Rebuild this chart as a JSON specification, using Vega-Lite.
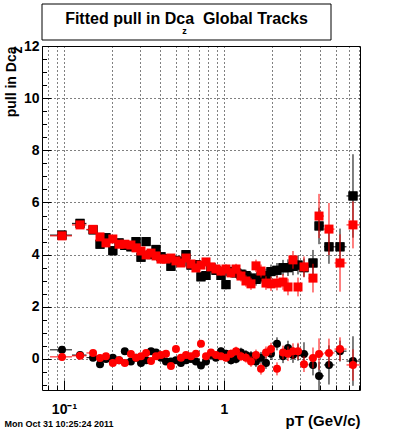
{
 "$schema": "https://vega.github.io/schema/vega-lite/v6.json",
 "padding": {"left": 3, "top": 3, "right": 0, "bottom": 0},
 "background": "white",
 "config": {"view": {"stroke": "black", "strokeWidth": 1}, "font": "Liberation Sans"},
 "spacing": -3,
 "datasets": {
  "bs": [
   {"pt":0.0972,"lo":0.0818,"hi":0.1122,"v":4.75,"e":0.1},
   {"pt":0.126,"lo":0.1122,"hi":0.1382,"v":5.2,"e":0.1},
   {"pt":0.152,"lo":0.1382,"hi":0.1597,"v":4.95,"e":0.1},
   {"pt":0.168,"lo":0.1597,"hi":0.1753,"v":4.4,"e":0.1},
   {"pt":0.183,"lo":0.1753,"hi":0.1925,"v":4.65,"e":0.1},
   {"pt":0.202,"lo":0.1925,"hi":0.2113,"v":4.15,"e":0.1},
   {"pt":0.221,"lo":0.2113,"hi":0.2304,"v":4.45,"e":0.1},
   {"pt":0.240,"lo":0.2304,"hi":0.2512,"v":4.35,"e":0.1},
   {"pt":0.262,"lo":0.2512,"hi":0.2719,"v":4.3,"e":0.1},
   {"pt":0.282,"lo":0.2719,"hi":0.2922,"v":4.5,"e":0.1},
   {"pt":0.303,"lo":0.2922,"hi":0.3140,"v":3.9,"e":0.1},
   {"pt":0.326,"lo":0.3140,"hi":0.3375,"v":4.5,"e":0.1},
   {"pt":0.350,"lo":0.3375,"hi":0.3626,"v":4.0,"e":0.12},
   {"pt":0.376,"lo":0.3626,"hi":0.3897,"v":4.2,"e":0.12},
   {"pt":0.404,"lo":0.3897,"hi":0.4187,"v":3.92,"e":0.12},
   {"pt":0.434,"lo":0.4187,"hi":0.4500,"v":3.85,"e":0.12},
   {"pt":0.466,"lo":0.4500,"hi":0.4836,"v":3.55,"e":0.12},
   {"pt":0.501,"lo":0.4836,"hi":0.5196,"v":3.78,"e":0.12},
   {"pt":0.538,"lo":0.5196,"hi":0.5584,"v":3.72,"e":0.13},
   {"pt":0.579,"lo":0.5584,"hi":0.6000,"v":4.0,"e":0.13},
   {"pt":0.622,"lo":0.6000,"hi":0.6448,"v":3.6,"e":0.13},
   {"pt":0.668,"lo":0.6448,"hi":0.6929,"v":3.62,"e":0.14},
   {"pt":0.718,"lo":0.6929,"hi":0.7446,"v":3.15,"e":0.14},
   {"pt":0.772,"lo":0.7446,"hi":0.8001,"v":3.2,"e":0.15},
   {"pt":0.829,"lo":0.8001,"hi":0.8598,"v":3.5,"e":0.15},
   {"pt":0.891,"lo":0.8598,"hi":0.9239,"v":3.4,"e":0.16},
   {"pt":0.958,"lo":0.9239,"hi":0.9928,"v":3.2,"e":0.17},
   {"pt":1.029,"lo":0.9928,"hi":1.0669,"v":2.85,"e":0.18},
   {"pt":1.106,"lo":1.0669,"hi":1.1464,"v":3.35,"e":0.19},
   {"pt":1.189,"lo":1.1464,"hi":1.2318,"v":3.3,"e":0.2},
   {"pt":1.277,"lo":1.2318,"hi":1.3237,"v":3.25,"e":0.21},
   {"pt":1.372,"lo":1.3237,"hi":1.4223,"v":3.2,"e":0.22},
   {"pt":1.475,"lo":1.4223,"hi":1.5284,"v":3.1,"e":0.23},
   {"pt":1.585,"lo":1.5284,"hi":1.6423,"v":3.05,"e":0.24},
   {"pt":1.703,"lo":1.6423,"hi":1.7647,"v":3.15,"e":0.25},
   {"pt":1.830,"lo":1.7647,"hi":1.8963,"v":3.2,"e":0.26},
   {"pt":1.967,"lo":1.8963,"hi":2.0535,"v":3.35,"e":0.27},
   {"pt":2.144,"lo":2.0535,"hi":2.2387,"v":3.4,"e":0.28},
   {"pt":2.338,"lo":2.2387,"hi":2.4228,"v":3.5,"e":0.3},
   {"pt":2.512,"lo":2.4228,"hi":2.6034,"v":3.5,"e":0.32},
   {"pt":2.699,"lo":2.6034,"hi":2.7975,"v":3.55,"e":0.34},
   {"pt":2.901,"lo":2.7975,"hi":3.0284,"v":3.6,"e":0.36},
   {"pt":3.162,"lo":3.0284,"hi":3.3743,"v":3.5,"e":0.35},
   {"pt":3.599,"lo":3.3743,"hi":3.7584,"v":3.68,"e":0.5},
   {"pt":3.926,"lo":3.7584,"hi":4.2170,"v":5.1,"e":0.7},
   {"pt":4.53,"lo":4.2170,"hi":4.9058,"v":4.3,"e":0.65},
   {"pt":5.31,"lo":4.9058,"hi":5.8308,"v":4.3,"e":0.7},
   {"pt":6.40,"lo":5.8308,"hi":7.0795,"v":6.25,"e":1.6}
  ],
  "rs": [
   {"pt":0.0972,"lo":0.0818,"hi":0.1122,"v":4.72,"e":0.1},
   {"pt":0.126,"lo":0.1122,"hi":0.1382,"v":5.14,"e":0.1},
   {"pt":0.152,"lo":0.1382,"hi":0.1597,"v":4.97,"e":0.1},
   {"pt":0.168,"lo":0.1597,"hi":0.1753,"v":4.68,"e":0.1},
   {"pt":0.183,"lo":0.1753,"hi":0.1925,"v":4.45,"e":0.1},
   {"pt":0.202,"lo":0.1925,"hi":0.2113,"v":4.6,"e":0.1},
   {"pt":0.221,"lo":0.2113,"hi":0.2304,"v":4.4,"e":0.1},
   {"pt":0.240,"lo":0.2304,"hi":0.2512,"v":4.4,"e":0.1},
   {"pt":0.262,"lo":0.2512,"hi":0.2719,"v":4.37,"e":0.1},
   {"pt":0.282,"lo":0.2719,"hi":0.2922,"v":4.26,"e":0.1},
   {"pt":0.303,"lo":0.2922,"hi":0.3140,"v":4.14,"e":0.1},
   {"pt":0.326,"lo":0.3140,"hi":0.3375,"v":3.99,"e":0.1},
   {"pt":0.350,"lo":0.3375,"hi":0.3626,"v":4.06,"e":0.12},
   {"pt":0.376,"lo":0.3626,"hi":0.3897,"v":3.95,"e":0.12},
   {"pt":0.404,"lo":0.3897,"hi":0.4187,"v":3.83,"e":0.12},
   {"pt":0.434,"lo":0.4187,"hi":0.4500,"v":3.83,"e":0.12},
   {"pt":0.466,"lo":0.4500,"hi":0.4836,"v":3.87,"e":0.12},
   {"pt":0.501,"lo":0.4836,"hi":0.5196,"v":3.76,"e":0.12},
   {"pt":0.538,"lo":0.5196,"hi":0.5584,"v":3.68,"e":0.13},
   {"pt":0.579,"lo":0.5584,"hi":0.6000,"v":3.87,"e":0.13},
   {"pt":0.622,"lo":0.6000,"hi":0.6448,"v":3.64,"e":0.13},
   {"pt":0.668,"lo":0.6448,"hi":0.6929,"v":3.49,"e":0.14},
   {"pt":0.718,"lo":0.6929,"hi":0.7446,"v":3.6,"e":0.14},
   {"pt":0.772,"lo":0.7446,"hi":0.8001,"v":3.72,"e":0.15},
   {"pt":0.829,"lo":0.8001,"hi":0.8598,"v":3.53,"e":0.15},
   {"pt":0.891,"lo":0.8598,"hi":0.9239,"v":3.45,"e":0.16},
   {"pt":0.958,"lo":0.9239,"hi":0.9928,"v":3.37,"e":0.17},
   {"pt":1.029,"lo":0.9928,"hi":1.0669,"v":3.45,"e":0.18},
   {"pt":1.106,"lo":1.0669,"hi":1.1464,"v":3.3,"e":0.19},
   {"pt":1.189,"lo":1.1464,"hi":1.2318,"v":3.45,"e":0.2},
   {"pt":1.277,"lo":1.2318,"hi":1.3237,"v":3.18,"e":0.21},
   {"pt":1.372,"lo":1.3237,"hi":1.4223,"v":2.99,"e":0.22},
   {"pt":1.475,"lo":1.4223,"hi":1.5284,"v":2.88,"e":0.23},
   {"pt":1.585,"lo":1.5284,"hi":1.6423,"v":3.57,"e":0.24},
   {"pt":1.703,"lo":1.6423,"hi":1.7647,"v":3.37,"e":0.25},
   {"pt":1.830,"lo":1.7647,"hi":1.8963,"v":2.91,"e":0.26},
   {"pt":1.967,"lo":1.8963,"hi":2.0535,"v":2.88,"e":0.27},
   {"pt":2.144,"lo":2.0535,"hi":2.2387,"v":2.91,"e":0.28},
   {"pt":2.338,"lo":2.2387,"hi":2.4228,"v":2.95,"e":0.3},
   {"pt":2.512,"lo":2.4228,"hi":2.6034,"v":2.76,"e":0.32},
   {"pt":2.699,"lo":2.6034,"hi":2.7975,"v":3.8,"e":0.34},
   {"pt":2.901,"lo":2.7975,"hi":3.0284,"v":2.76,"e":0.36},
   {"pt":3.162,"lo":3.0284,"hi":3.3743,"v":3.53,"e":0.4},
   {"pt":3.599,"lo":3.3743,"hi":3.7584,"v":3.1,"e":0.55},
   {"pt":3.926,"lo":3.7584,"hi":4.2170,"v":5.48,"e":0.85},
   {"pt":4.53,"lo":4.2170,"hi":4.9058,"v":4.98,"e":1.0},
   {"pt":5.31,"lo":4.9058,"hi":5.8308,"v":3.68,"e":1.1},
   {"pt":6.40,"lo":5.8308,"hi":7.0795,"v":5.14,"e":0.9}
  ],
  "bc": [
   {"pt":0.0972,"lo":0.0818,"hi":0.1122,"v":0.35,"e":0.08},
   {"pt":0.126,"lo":0.1122,"hi":0.1382,"v":0.15,"e":0.08},
   {"pt":0.152,"lo":0.1382,"hi":0.1597,"v":0.05,"e":0.08},
   {"pt":0.168,"lo":0.1597,"hi":0.1753,"v":-0.2,"e":0.08},
   {"pt":0.183,"lo":0.1753,"hi":0.1925,"v":0.0,"e":0.08},
   {"pt":0.202,"lo":0.1925,"hi":0.2113,"v":0.05,"e":0.08},
   {"pt":0.221,"lo":0.2113,"hi":0.2304,"v":-0.05,"e":0.08},
   {"pt":0.240,"lo":0.2304,"hi":0.2512,"v":0.3,"e":0.08},
   {"pt":0.262,"lo":0.2512,"hi":0.2719,"v":-0.1,"e":0.08},
   {"pt":0.282,"lo":0.2719,"hi":0.2922,"v":0.05,"e":0.08},
   {"pt":0.303,"lo":0.2922,"hi":0.3140,"v":-0.15,"e":0.08},
   {"pt":0.326,"lo":0.3140,"hi":0.3375,"v":-0.05,"e":0.1},
   {"pt":0.350,"lo":0.3375,"hi":0.3626,"v":0.3,"e":0.1},
   {"pt":0.376,"lo":0.3626,"hi":0.3897,"v":0.25,"e":0.1},
   {"pt":0.404,"lo":0.3897,"hi":0.4187,"v":0.05,"e":0.1},
   {"pt":0.434,"lo":0.4187,"hi":0.4500,"v":-0.1,"e":0.1},
   {"pt":0.466,"lo":0.4500,"hi":0.4836,"v":-0.1,"e":0.1},
   {"pt":0.501,"lo":0.4836,"hi":0.5196,"v":-0.05,"e":0.1},
   {"pt":0.538,"lo":0.5196,"hi":0.5584,"v":-0.15,"e":0.1},
   {"pt":0.579,"lo":0.5584,"hi":0.6000,"v":-0.05,"e":0.1},
   {"pt":0.622,"lo":0.6000,"hi":0.6448,"v":0.0,"e":0.11},
   {"pt":0.668,"lo":0.6448,"hi":0.6929,"v":-0.1,"e":0.11},
   {"pt":0.718,"lo":0.6929,"hi":0.7446,"v":-0.25,"e":0.12},
   {"pt":0.772,"lo":0.7446,"hi":0.8001,"v":-0.1,"e":0.12},
   {"pt":0.829,"lo":0.8001,"hi":0.8598,"v":0.15,"e":0.13},
   {"pt":0.891,"lo":0.8598,"hi":0.9239,"v":0.05,"e":0.13},
   {"pt":0.958,"lo":0.9239,"hi":0.9928,"v":0.3,"e":0.14},
   {"pt":1.029,"lo":0.9928,"hi":1.0669,"v":0.2,"e":0.15},
   {"pt":1.106,"lo":1.0669,"hi":1.1464,"v":-0.05,"e":0.16},
   {"pt":1.189,"lo":1.1464,"hi":1.2318,"v":0.0,"e":0.17},
   {"pt":1.277,"lo":1.2318,"hi":1.3237,"v":0.25,"e":0.18},
   {"pt":1.372,"lo":1.3237,"hi":1.4223,"v":0.15,"e":0.19},
   {"pt":1.475,"lo":1.4223,"hi":1.5284,"v":0.1,"e":0.2},
   {"pt":1.585,"lo":1.5284,"hi":1.6423,"v":-0.1,"e":0.21},
   {"pt":1.703,"lo":1.6423,"hi":1.7647,"v":0.05,"e":0.22},
   {"pt":1.830,"lo":1.7647,"hi":1.8963,"v":-0.15,"e":0.23},
   {"pt":1.967,"lo":1.8963,"hi":2.0535,"v":0.2,"e":0.24},
   {"pt":2.144,"lo":2.0535,"hi":2.2387,"v":0.58,"e":0.25},
   {"pt":2.338,"lo":2.2387,"hi":2.4228,"v":0.1,"e":0.26},
   {"pt":2.512,"lo":2.4228,"hi":2.6034,"v":0.42,"e":0.28},
   {"pt":2.699,"lo":2.6034,"hi":2.7975,"v":0.15,"e":0.3},
   {"pt":2.901,"lo":2.7975,"hi":3.0284,"v":0.25,"e":0.32},
   {"pt":3.162,"lo":3.0284,"hi":3.3743,"v":0.19,"e":0.45},
   {"pt":3.599,"lo":3.3743,"hi":3.7584,"v":-0.23,"e":0.4},
   {"pt":3.926,"lo":3.7584,"hi":4.2170,"v":-0.65,"e":0.54},
   {"pt":4.53,"lo":4.2170,"hi":4.9058,"v":-0.23,"e":0.75},
   {"pt":5.31,"lo":4.9058,"hi":5.8308,"v":0.3,"e":0.4},
   {"pt":6.40,"lo":5.8308,"hi":7.0795,"v":-0.08,"e":0.95}
  ],
  "rc": [
   {"pt":0.0972,"lo":0.0818,"hi":0.1122,"v":0.08,"e":0.08},
   {"pt":0.126,"lo":0.1122,"hi":0.1382,"v":0.12,"e":0.08},
   {"pt":0.152,"lo":0.1382,"hi":0.1597,"v":0.23,"e":0.08},
   {"pt":0.168,"lo":0.1597,"hi":0.1753,"v":0.04,"e":0.08},
   {"pt":0.183,"lo":0.1753,"hi":0.1925,"v":0.1,"e":0.08},
   {"pt":0.202,"lo":0.1925,"hi":0.2113,"v":-0.15,"e":0.08},
   {"pt":0.221,"lo":0.2113,"hi":0.2304,"v":-0.05,"e":0.08},
   {"pt":0.240,"lo":0.2304,"hi":0.2512,"v":-0.15,"e":0.08},
   {"pt":0.262,"lo":0.2512,"hi":0.2719,"v":0.19,"e":0.08},
   {"pt":0.282,"lo":0.2719,"hi":0.2922,"v":0.05,"e":0.08},
   {"pt":0.303,"lo":0.2922,"hi":0.3140,"v":0.1,"e":0.08},
   {"pt":0.326,"lo":0.3140,"hi":0.3375,"v":0.23,"e":0.1},
   {"pt":0.350,"lo":0.3375,"hi":0.3626,"v":-0.08,"e":0.1},
   {"pt":0.376,"lo":0.3626,"hi":0.3897,"v":0.1,"e":0.1},
   {"pt":0.404,"lo":0.3897,"hi":0.4187,"v":0.15,"e":0.1},
   {"pt":0.434,"lo":0.4187,"hi":0.4500,"v":0.2,"e":0.1},
   {"pt":0.466,"lo":0.4500,"hi":0.4836,"v":-0.27,"e":0.1},
   {"pt":0.501,"lo":0.4836,"hi":0.5196,"v":0.38,"e":0.1},
   {"pt":0.538,"lo":0.5196,"hi":0.5584,"v":0.05,"e":0.1},
   {"pt":0.579,"lo":0.5584,"hi":0.6000,"v":0.15,"e":0.1},
   {"pt":0.622,"lo":0.6000,"hi":0.6448,"v":0.1,"e":0.11},
   {"pt":0.668,"lo":0.6448,"hi":0.6929,"v":0.2,"e":0.11},
   {"pt":0.718,"lo":0.6929,"hi":0.7446,"v":0.58,"e":0.12},
   {"pt":0.772,"lo":0.7446,"hi":0.8001,"v":0.1,"e":0.12},
   {"pt":0.829,"lo":0.8001,"hi":0.8598,"v":0.25,"e":0.13},
   {"pt":0.891,"lo":0.8598,"hi":0.9239,"v":0.15,"e":0.13},
   {"pt":0.958,"lo":0.9239,"hi":0.9928,"v":0.1,"e":0.14},
   {"pt":1.029,"lo":0.9928,"hi":1.0669,"v":0.05,"e":0.15},
   {"pt":1.106,"lo":1.0669,"hi":1.1464,"v":0.2,"e":0.16},
   {"pt":1.189,"lo":1.1464,"hi":1.2318,"v":0.3,"e":0.17},
   {"pt":1.277,"lo":1.2318,"hi":1.3237,"v":0.1,"e":0.18},
   {"pt":1.372,"lo":1.3237,"hi":1.4223,"v":0.05,"e":0.19},
   {"pt":1.475,"lo":1.4223,"hi":1.5284,"v":-0.1,"e":0.2},
   {"pt":1.585,"lo":1.5284,"hi":1.6423,"v":0.15,"e":0.21},
   {"pt":1.703,"lo":1.6423,"hi":1.7647,"v":-0.38,"e":0.22},
   {"pt":1.830,"lo":1.7647,"hi":1.8963,"v":0.25,"e":0.23},
   {"pt":1.967,"lo":1.8963,"hi":2.0535,"v":0.38,"e":0.24},
   {"pt":2.144,"lo":2.0535,"hi":2.2387,"v":-0.38,"e":0.25},
   {"pt":2.338,"lo":2.2387,"hi":2.4228,"v":0.25,"e":0.26},
   {"pt":2.512,"lo":2.4228,"hi":2.6034,"v":0.2,"e":0.28},
   {"pt":2.699,"lo":2.6034,"hi":2.7975,"v":0.3,"e":0.3},
   {"pt":2.901,"lo":2.7975,"hi":3.0284,"v":0.3,"e":0.32},
   {"pt":3.162,"lo":3.0284,"hi":3.3743,"v":-0.2,"e":0.3},
   {"pt":3.599,"lo":3.3743,"hi":3.7584,"v":0.04,"e":0.4},
   {"pt":3.926,"lo":3.7584,"hi":4.2170,"v":0.19,"e":0.6},
   {"pt":4.53,"lo":4.2170,"hi":4.9058,"v":0.23,"e":0.55},
   {"pt":5.31,"lo":4.9058,"hi":5.8308,"v":0.38,"e":0.45},
   {"pt":6.40,"lo":5.8308,"hi":7.0795,"v":-0.23,"e":0.6}
  ]
 },
 "vconcat": [
  {
   "width": 289,
   "height": 36,
   "data": {"values": [{}]},
   "layer": [
    {"mark": {"type": "rect", "fill": "white", "stroke": "black", "strokeWidth": 1}, "encoding": {}},
    {"mark": {"type": "text", "text": "Fitted pull in Dca\u00a0 Global Tracks", "font": "Liberation Sans", "fontWeight": "bold", "fontSize": 16, "baseline": "middle", "align": "center", "color": "black", "dy": -3}, "encoding": {}},
    {"mark": {"type": "text", "text": "z", "font": "Liberation Sans", "fontWeight": "bold", "fontSize": 9, "baseline": "middle", "align": "center", "color": "black", "dy": 9, "dx": -2}, "encoding": {}}
   ]
  },
  {
   "width": 318,
   "height": 344,
   "title": {"text": "Mon Oct 31 10:25:24 2011", "orient": "bottom", "anchor": "start", "frame": "bounds", "font": "Liberation Sans", "fontSize": 9, "fontWeight": "bold", "color": "black", "offset": -8},
   "resolve": {"axis": {"x": "independent", "y": "independent"}},
   "layer": [
    {"data": {"name": "bs"}, "mark": {"type": "point", "shape": "square", "filled": true, "size": 81, "color": "black", "opacity": 1},
     "encoding": {
      "x": {"field": "pt", "type": "quantitative",
       "scale": {"type": "log", "domain": [0.07289, 7.0795], "nice": false},
       "axis": {"orient": "bottom", "title": "pT (GeV/c)", "titleAnchor": "end", "titleFont": "Liberation Sans", "titleFontSize": 15, "titleFontWeight": "bold", "titleColor": "black", "titlePadding": -3,
        "values": [0.1, 1],
        "labelExpr": "datum.value < 0.5 ? '10⁻¹' : '1'",
        "labelFont": "Liberation Sans", "labelFontSize": 14, "labelFontWeight": "bold", "labelColor": "black", "labelPadding": 22, "labelFlush": false, "labelOverlap": false,
        "domain": false, "tickColor": "black", "tickSize": -10,
        "grid": true, "gridColor": "black", "gridDash": [1, 3], "gridOpacity": 1, "gridWidth": 1}},
      "y": {"field": "v", "type": "quantitative",
       "scale": {"domain": [-1.19, 12], "nice": false, "zero": false},
       "axis": {"orient": "left", "title": ["pull in Dca", "z"], "titleAnchor": "end", "titleAlign": "right", "titleFont": "Liberation Sans", "titleFontSize": 14, "titleFontWeight": "bold", "titleColor": "black", "titleLineHeight": 6, "titlePadding": -1,
        "values": [0, 2, 4, 6, 8, 10, 12],
        "labelFont": "Liberation Sans", "labelFontSize": 14, "labelFontWeight": "bold", "labelColor": "black", "labelPadding": 12, "labelFlush": false, "labelOverlap": false,
        "domain": false, "tickColor": "black", "tickSize": -9,
        "grid": true, "gridColor": "black", "gridDash": [1, 3], "gridOpacity": 1, "gridWidth": 1}}}},
    {"data": {"name": "bs"}, "mark": {"type": "errorbar", "color": "black", "ticks": false},
     "encoding": {
      "x": {"field": "lo", "type": "quantitative",
       "axis": {"orient": "bottom", "title": null, "labels": false, "values": [0.08, 0.09, 0.2, 0.3, 0.4, 0.5, 0.6, 0.7, 0.8, 0.9, 2, 3, 4, 5, 6, 7], "domain": false, "tickColor": "black", "tickSize": -5, "grid": true, "gridColor": "black", "gridDash": [1, 3], "gridOpacity": 1, "gridWidth": 1}},
      "x2": {"field": "hi"},
      "y": {"field": "v", "type": "quantitative",
       "axis": {"orient": "left", "title": null, "labels": false, "values": [-1, -0.5, 0.5, 1, 1.5, 2.5, 3, 3.5, 4.5, 5, 5.5, 6.5, 7, 7.5, 8.5, 9, 9.5, 10.5, 11, 11.5], "domain": false, "tickColor": "black", "tickSize": -4.5, "grid": false}}}},
    {"data": {"name": "bs"}, "mark": {"type": "errorbar", "color": "black", "ticks": false},
     "encoding": {"x": {"field": "pt", "type": "quantitative", "axis": null}, "y": {"field": "v", "type": "quantitative", "axis": null}, "yError": {"field": "e"}}},
    {"data": {"name": "bs"}, "mark": {"type": "point", "shape": "square", "filled": true, "size": 81, "color": "black", "opacity": 1},
     "encoding": {"x": {"field": "pt", "type": "quantitative", "axis": null}, "y": {"field": "v", "type": "quantitative", "axis": null}}},
    {"data": {"name": "bc"}, "mark": {"type": "errorbar", "color": "black", "ticks": false},
     "encoding": {"x": {"field": "lo", "type": "quantitative", "axis": null}, "x2": {"field": "hi"}, "y": {"field": "v", "type": "quantitative", "axis": null}}},
    {"data": {"name": "bc"}, "mark": {"type": "errorbar", "color": "black", "ticks": false},
     "encoding": {"x": {"field": "pt", "type": "quantitative", "axis": null}, "y": {"field": "v", "type": "quantitative", "axis": null}, "yError": {"field": "e"}}},
    {"data": {"name": "bc"}, "mark": {"type": "point", "shape": "circle", "filled": true, "size": 64, "color": "black", "opacity": 1},
     "encoding": {"x": {"field": "pt", "type": "quantitative", "axis": null}, "y": {"field": "v", "type": "quantitative", "axis": null}}},
    {"data": {"name": "rs"}, "mark": {"type": "errorbar", "color": "#ff0000", "ticks": false},
     "encoding": {"x": {"field": "lo", "type": "quantitative", "axis": null}, "x2": {"field": "hi"}, "y": {"field": "v", "type": "quantitative", "axis": null}}},
    {"data": {"name": "rs"}, "mark": {"type": "errorbar", "color": "#ff0000", "ticks": false},
     "encoding": {"x": {"field": "pt", "type": "quantitative", "axis": null}, "y": {"field": "v", "type": "quantitative", "axis": null}, "yError": {"field": "e"}}},
    {"data": {"name": "rs"}, "mark": {"type": "point", "shape": "square", "filled": true, "size": 81, "color": "#ff0000", "opacity": 1},
     "encoding": {"x": {"field": "pt", "type": "quantitative", "axis": null}, "y": {"field": "v", "type": "quantitative", "axis": null}}},
    {"data": {"name": "rc"}, "mark": {"type": "errorbar", "color": "#ff0000", "ticks": false},
     "encoding": {"x": {"field": "lo", "type": "quantitative", "axis": null}, "x2": {"field": "hi"}, "y": {"field": "v", "type": "quantitative", "axis": null}}},
    {"data": {"name": "rc"}, "mark": {"type": "errorbar", "color": "#ff0000", "ticks": false},
     "encoding": {"x": {"field": "pt", "type": "quantitative", "axis": null}, "y": {"field": "v", "type": "quantitative", "axis": null}, "yError": {"field": "e"}}},
    {"data": {"name": "rc"}, "mark": {"type": "point", "shape": "circle", "filled": true, "size": 64, "color": "#ff0000", "opacity": 1},
     "encoding": {"x": {"field": "pt", "type": "quantitative", "axis": null}, "y": {"field": "v", "type": "quantitative", "axis": null}}}
   ]
  }
 ]
}
